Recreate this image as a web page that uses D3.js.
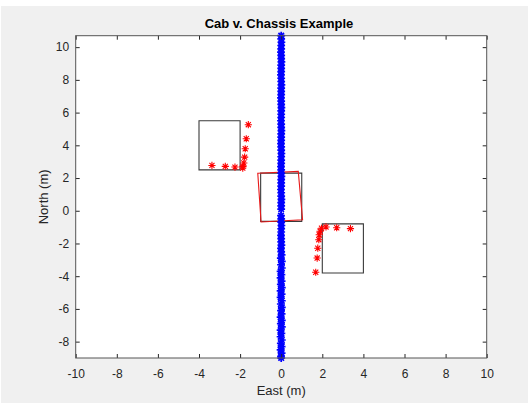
<!DOCTYPE html>
<html>
<head>
<meta charset="utf-8">
<script src="https://cdn.jsdelivr.net/npm/d3@7"></script>
<style>
  html, body { margin: 0; padding: 0; background: #ffffff; }
  svg { display: block; font-family: "Liberation Sans", Arial, Helvetica, sans-serif; }
</style>
</head>
<body>
<div id="chart"></div>
<script>
// Axis ticks
const xTicks = [-10, -8, -6, -4, -2, 0, 2, 4, 6, 8, 10];
const yTicks = [-8, -6, -4, -2, 0, 2, 4, 6, 8, 10];
const xDomain = [-10, 10];
const yDomain = [-9.0, 10.7];

// Vehicle track (blue *): north / east positions in metres
const trackNorth = [
  10.7, 10.5, 10.3, 10.1, 9.9, 9.7, 9.5, 9.3, 9.1, 8.9, 8.7,
  8.5, 8.3, 8.1, 7.9, 7.7, 7.5, 7.3, 7.1, 6.9, 6.7, 6.5,
  6.3, 6.1, 5.9, 5.7, 5.5, 5.3, 5.1, 4.9, 4.7, 4.5, 4.3,
  4.1, 3.9, 3.7, 3.5, 3.3, 3.1, 2.9, 2.7, 2.5, 2.3, 2.1,
  1.9, 1.7, 1.5, 1.3, 1.1, 0.9, 0.7, 0.5, 0.3, 0.1, -0.3,
  -0.5, -0.7, -0.9, -1.1, -1.3, -1.5, -1.7, -1.9, -2.1, -2.3, -2.5,
  -2.7, -2.9, -3.1, -3.3, -3.5, -3.7, -3.9, -4.1, -4.3, -4.5, -4.7,
  -4.9, -5.1, -5.3, -5.5, -5.7, -5.9, -6.1, -6.3, -6.5, -6.7, -6.9,
  -7.1, -7.3, -7.5, -7.7, -7.9, -8.1, -8.3, -8.5, -8.7, -8.9, -9.0
];
const trackEast = [
  0, 0, 0.01, 0, 0, -0.01, 0, 0, 0.01, 0, 0,
  0, -0.01, 0, 0, 0.01, 0, 0, 0, -0.01, 0, 0,
  0.01, 0, 0, 0, -0.01, 0, 0, 0.01, 0, 0, 0,
  -0.01, 0, 0, 0.01, 0, 0, 0, -0.01, 0, 0, 0.01,
  0, 0, 0, -0.01, 0, 0, 0.01, 0, 0, 0, -0.01,
  0, 0, 0.01, 0, 0, -0.01, 0, 0, 0.01, -0.01, 0,
  0.02, -0.02, 0.03, -0.01, 0.03, -0.03, 0.01, -0.03, 0.02, -0.02, 0.03,
  -0.03, 0.02, -0.03, 0.03, -0.02, 0.03, -0.01, 0.02, -0.03, 0.03, -0.02,
  0.03, -0.03, 0.01, -0.03, 0.03, -0.02, 0.02, -0.03, 0.02, -0.01, 0.0
];

// Obstacle outlines (black), [east, north] corners
const obstacleA = [[-4, 5.5], [-2, 5.5], [-2, 2.5], [-4, 2.5]];
const obstacleB = [[2, -0.8], [4, -0.8], [4, -3.8], [2, -3.8]];
// Chassis outline (black) and cab outline (red, slightly rotated)
const chassis = [[-1, 2.3], [1, 2.3], [1, -0.65], [-1, -0.65]];
const cab = [[-1.14, 2.29], [0.83, 2.41], [1.04, -0.55], [-0.98, -0.69]];

// Sensor returns (red *)
const hitsAEast  = [-1.60, -1.70, -1.75, -1.78, -1.82, -1.86, -1.87, -2.25, -2.72, -3.37];
const hitsANorth = [5.26, 4.40, 3.79, 3.28, 2.92, 2.71, 2.61, 2.67, 2.71, 2.77];
const hitsBEast  = [3.37, 2.70, 2.18, 1.96, 1.89, 1.85, 1.83, 1.78, 1.75, 1.68];
const hitsBNorth = [-1.09, -1.04, -0.99, -1.07, -1.25, -1.47, -1.77, -2.29, -2.89, -3.76];

const W = 530, H = 403;
const plot = { left: 75.7, right: 486.7, top: 35.7, bottom: 358 };
const inkColor = "#262626";

const svg = d3.select("#chart").append("svg")
  .attr("width", W).attr("height", H);

// figure background
svg.append("rect").attr("x", 1).attr("y", 6).attr("width", W - 3).attr("height", H - 6)
  .attr("fill", "#f0f0f0");

const x = d3.scaleLinear().domain(xDomain).range([plot.left, plot.right]);
const y = d3.scaleLinear().domain(yDomain).range([plot.bottom, plot.top]);

// axes area
svg.append("rect")
  .attr("x", plot.left).attr("y", plot.top)
  .attr("width", plot.right - plot.left).attr("height", plot.bottom - plot.top)
  .attr("fill", "#ffffff");

// asterisk marker path
function asterisk(r) {
  const d = r * Math.SQRT1_2;
  return `M${-r},0L${r},0M0,${-r}L0,${r}M${-d},${-d}L${d},${d}M${-d},${d}L${d},${-d}`;
}

const line = d3.line().x(p => x(p[0])).y(p => y(p[1])).curve(d3.curveLinearClosed);

const g = svg.append("g");

// obstacles and chassis
[obstacleA, obstacleB, chassis].forEach(poly => {
  g.append("path").attr("d", line(poly))
    .attr("fill", "none").attr("stroke", "#3a3a3a").attr("stroke-width", 1.1);
});
// cab
g.append("path").attr("d", line(cab))
  .attr("fill", "none").attr("stroke", "#e81818").attr("stroke-width", 1.1);

// sensor returns
function drawHits(east, north) {
  g.append("g").selectAll("path")
    .data(east.map((e, i) => [e, north[i]]))
    .join("path")
    .attr("transform", p => `translate(${x(p[0])},${y(p[1])})`)
    .attr("d", asterisk(3.6))
    .attr("fill", "none").attr("stroke", "#ff0000").attr("stroke-width", 1.1);
}
drawHits(hitsAEast, hitsANorth);
drawHits(hitsBEast, hitsBNorth);

// vehicle track
g.append("g").selectAll("path")
  .data(trackNorth.map((n, i) => [trackEast[i], n]))
  .join("path")
  .attr("transform", p => `translate(${x(p[0])},${y(p[1])})`)
  .attr("d", asterisk(3.9))
  .attr("fill", "none").attr("stroke", "#0000ff").attr("stroke-width", 1.7);

// axes with inward ticks on all four sides
const tickLen = 4;
const fmt = d => String(d);
const axB = svg.append("g").attr("transform", `translate(0,${plot.bottom})`)
  .call(d3.axisBottom(x).tickValues(xTicks).tickFormat(fmt).tickSizeInner(-tickLen).tickSizeOuter(0).tickPadding(11));
const axT = svg.append("g").attr("transform", `translate(0,${plot.top})`)
  .call(d3.axisTop(x).tickValues(xTicks).tickFormat("").tickSizeInner(-tickLen).tickSizeOuter(0));
const axL = svg.append("g").attr("transform", `translate(${plot.left},0)`)
  .call(d3.axisLeft(y).tickValues(yTicks).tickFormat(fmt).tickSizeInner(-tickLen).tickSizeOuter(0).tickPadding(6.5));
const axR = svg.append("g").attr("transform", `translate(${plot.right},0)`)
  .call(d3.axisRight(y).tickValues(yTicks).tickFormat("").tickSizeInner(-tickLen).tickSizeOuter(0));

[axB, axT, axL, axR].forEach(a => {
  a.select(".domain").remove();
  a.selectAll("line").attr("stroke", inkColor).attr("stroke-width", 1);
  a.selectAll("text").attr("fill", inkColor)
    .style("font-family", "'Liberation Sans', Arial, sans-serif")
    .style("font-size", "12px");
});

// axes box
svg.append("rect")
  .attr("x", plot.left).attr("y", plot.top)
  .attr("width", plot.right - plot.left).attr("height", plot.bottom - plot.top)
  .attr("fill", "none").attr("stroke", "#555555").attr("stroke-width", 1);

// title and axis labels
svg.append("text")
  .attr("x", 279).attr("y", 28)
  .attr("text-anchor", "middle")
  .attr("fill", "#000000")
  .style("font-size", "13px").style("font-weight", "bold")
  .text("Cab v. Chassis Example");

svg.append("text")
  .attr("x", (plot.left + plot.right) / 2).attr("y", 395)
  .attr("text-anchor", "middle")
  .attr("fill", inkColor)
  .style("font-size", "13px")
  .text("East (m)");

svg.append("text")
  .attr("transform", `translate(47.5,${(plot.top + plot.bottom) / 2}) rotate(-90)`)
  .attr("text-anchor", "middle")
  .attr("fill", inkColor)
  .style("font-size", "13px")
  .text("North (m)");
</script>
</body>
</html>
